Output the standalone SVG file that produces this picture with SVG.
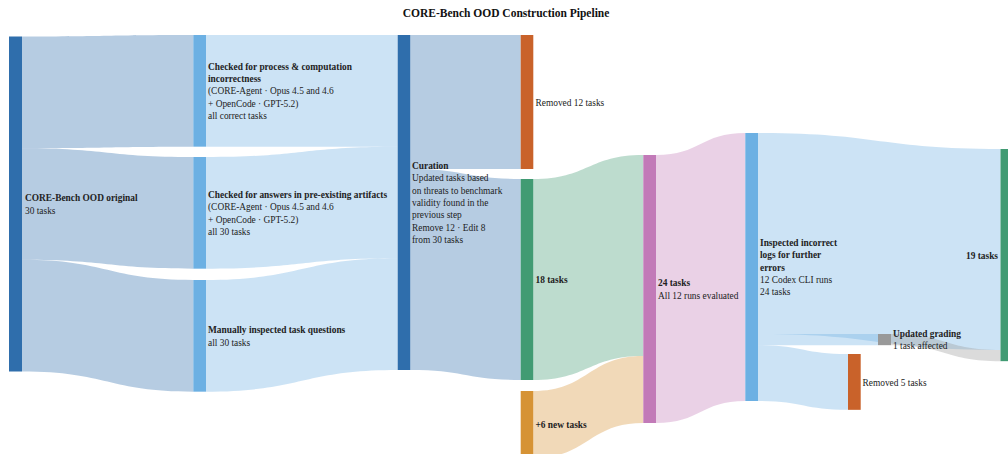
<svg xmlns="http://www.w3.org/2000/svg" width="1008" height="454" viewBox="0 0 1008 454">
<style>
text{font-family:"Liberation Serif","Times New Roman",serif;font-size:9.4px;fill:#222}
.b{font-weight:bold}
.title{font-size:11.5px;font-weight:bold;fill:#111}
.lk{fill-opacity:0.35;stroke:none}
.dblue{fill:#2f6eac}.lblue{fill:#6cb0e3}.orange{fill:#c9622a}.green{fill:#419b73}.amber{fill:#d69335}.purple{fill:#c27ab8}.grey{fill:#999999}
</style>
<rect width="1008" height="454" fill="#ffffff"/>
<text class="title" x="506" y="17.3" text-anchor="middle">CORE-Bench OOD Construction Pipeline</text>
<g id="connectors">
<path class="lk dblue" d="M22,36.5 C107.65,36.5 107.65,35 193.3,35 L193.3,146.67 C107.65,146.67 107.65,148.17 22,148.17 Z"/>
<path class="lk dblue" d="M22,148.17 C107.65,148.17 107.65,157 193.3,157 L193.3,268.67 C107.65,268.67 107.65,259.83 22,259.83 Z"/>
<path class="lk dblue" d="M22,259.83 C107.65,259.83 107.65,280 193.3,280 L193.3,391.67 C107.65,391.67 107.65,371.5 22,371.5 Z"/>
<path class="lk lblue" d="M206,35 C301.85,35 301.85,35 397.7,35 L397.7,146.67 C301.85,146.67 301.85,146.67 206,146.67 Z"/>
<path class="lk lblue" d="M206,157 C301.85,157 301.85,146.67 397.7,146.67 L397.7,258.33 C301.85,258.33 301.85,268.67 206,268.67 Z"/>
<path class="lk lblue" d="M206,280 C301.85,280 301.85,258.33 397.7,258.33 L397.7,370 C301.85,370 301.85,391.67 206,391.67 Z"/>
<path class="lk dblue" d="M410.3,35 C465.5,35 465.5,35 520.7,35 L520.7,169 C465.5,169 465.5,169 410.3,169 Z"/>
<path class="lk dblue" d="M410.3,169 C465.5,169 465.5,179 520.7,179 L520.7,380 C465.5,380 465.5,370 410.3,370 Z"/>
<path class="lk green" d="M533.3,179 C588.3,179 588.3,155 643.3,155 L643.3,356 C588.3,356 588.3,380 533.3,380 Z"/>
<path class="lk amber" d="M533.3,391 C588.3,391 588.3,356 643.3,356 L643.3,423 C588.3,423 588.3,458 533.3,458 Z"/>
<path class="lk purple" d="M656,155 C700.65,155 700.65,133 745.3,133 L745.3,401 C700.65,401 700.65,423 656,423 Z"/>
<path class="lk lblue" d="M758,133 C879.25,133 879.25,149 1000.5,149 L1000.5,350 C879.25,350 879.25,334 758,334 Z"/>
<path class="lk lblue" d="M758,334 C818,334 818,334 878,334 L878,345.17 C818,345.17 818,345.17 758,345.17 Z"/>
<path class="lk lblue" d="M758,345.17 C803,345.17 803,354 848,354 L848,409.83 C803,409.83 803,401 758,401 Z"/>
<path class="lk grey" d="M891,334 C945.75,334 945.75,350 1000.5,350 L1000.5,361.17 C945.75,361.17 945.75,345.17 891,345.17 Z"/>
</g>
<g id="node-original">
<rect class="dblue" x="9" y="36.5" width="13" height="335"/>
<text x="25" y="201.4"><tspan class="b">CORE-Bench OOD original</tspan><tspan x="25" y="213.7">30 tasks</tspan></text>
</g>
<g id="node-process">
<rect class="lblue" x="193.3" y="35" width="12.7" height="111.67"/>
<text x="208" y="69.7"><tspan class="b">Checked for process &amp; computation</tspan><tspan class="b" x="208" y="82">incorrectness</tspan><tspan x="208" y="94.3">(CORE-Agent · Opus 4.5 and 4.6</tspan><tspan x="208" y="106.6">+ OpenCode · GPT-5.2)</tspan><tspan x="208" y="118.9">all correct tasks</tspan></text>
</g>
<g id="node-artifacts">
<rect class="lblue" x="193.3" y="157" width="12.7" height="111.67"/>
<text x="208" y="197.9"><tspan class="b">Checked for answers in pre-existing artifacts</tspan><tspan x="208" y="210.2">(CORE-Agent · Opus 4.5 and 4.6</tspan><tspan x="208" y="222.5">+ OpenCode · GPT-5.2)</tspan><tspan x="208" y="234.8">all 30 tasks</tspan></text>
</g>
<g id="node-manual">
<rect class="lblue" x="193.3" y="280" width="12.7" height="111.67"/>
<text x="208" y="333.2"><tspan class="b">Manually inspected task questions</tspan><tspan x="208" y="345.5">all 30 tasks</tspan></text>
</g>
<g id="node-curation">
<rect class="dblue" x="397.7" y="35" width="12.6" height="335"/>
<text x="412" y="169.1"><tspan class="b">Curation</tspan><tspan x="412" y="181.4">Updated tasks based</tspan><tspan x="412" y="193.7">on threats to benchmark</tspan><tspan x="412" y="206">validity found in the</tspan><tspan x="412" y="218.3">previous step</tspan><tspan x="412" y="230.6">Remove 12 · Edit 8</tspan><tspan x="412" y="242.9">from 30 tasks</tspan></text>
</g>
<g id="node-removed12">
<rect class="orange" x="520.7" y="35" width="12.6" height="134"/>
<text x="535.5" y="105.5">Removed 12 tasks</text>
</g>
<g id="node-18">
<rect class="green" x="520.7" y="179" width="12.6" height="201"/>
<text class="b" x="535.5" y="283">18 tasks</text>
</g>
<g id="node-new6">
<rect class="amber" x="520.7" y="391" width="12.6" height="67"/>
<text class="b" x="535.5" y="428">+6 new tasks</text>
</g>
<g id="node-24">
<rect class="purple" x="643.3" y="155" width="12.7" height="268"/>
<text x="658" y="286.4"><tspan class="b">24 tasks</tspan><tspan x="658" y="298.7">All 12 runs evaluated</tspan></text>
</g>
<g id="node-inspected">
<rect class="lblue" x="745.3" y="133" width="12.7" height="268"/>
<text x="760" y="245.9"><tspan class="b">Inspected incorrect</tspan><tspan class="b" x="760" y="258.2">logs for further</tspan><tspan class="b" x="760" y="270.5">errors</tspan><tspan x="760" y="282.8">12 Codex CLI runs</tspan><tspan x="760" y="295.1">24 tasks</tspan></text>
</g>
<g id="node-grading">
<rect class="grey" x="878" y="334" width="13" height="11.17"/>
<text x="893" y="336.9"><tspan class="b">Updated grading</tspan><tspan x="893" y="349.2">1 task affected</tspan></text>
</g>
<g id="node-removed5">
<rect class="orange" x="848" y="354" width="12.7" height="55.83"/>
<text x="862.5" y="385.5">Removed 5 tasks</text>
</g>
<g id="node-19">
<rect class="green" x="1000.5" y="149" width="13" height="212.17"/>
<text class="b" x="998" y="258.5" text-anchor="end">19 tasks</text>
</g>
</svg>
